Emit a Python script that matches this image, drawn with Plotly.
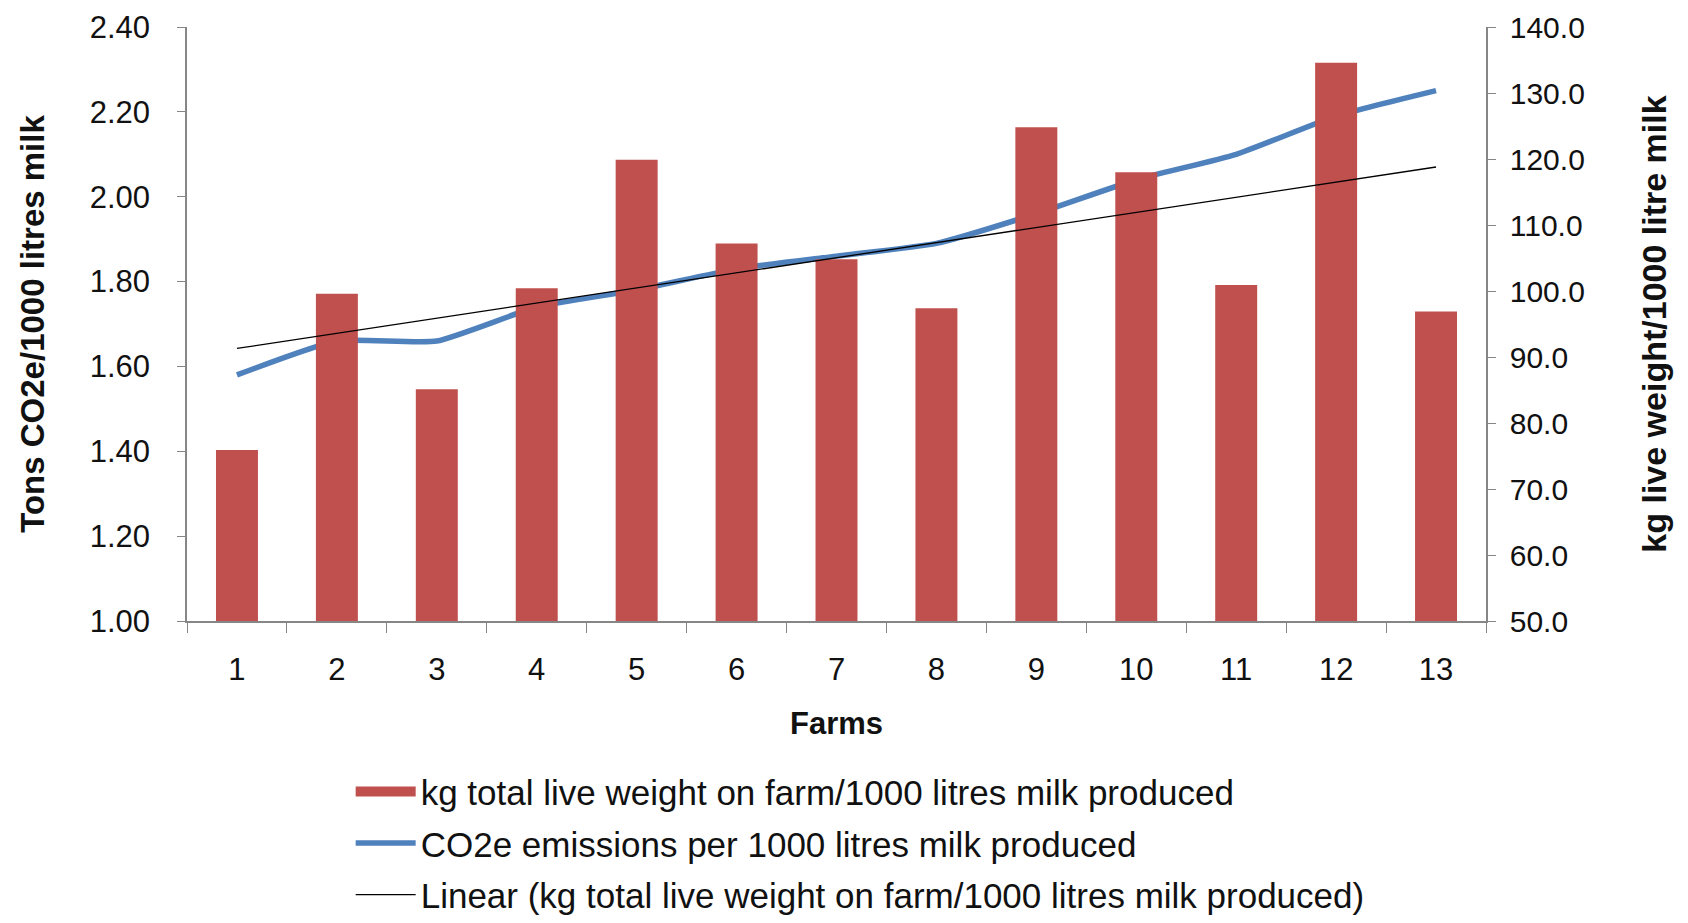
import numpy as np
import plotly.graph_objects as go

farms = [str(i) for i in range(1, 14)]
live_weight = [75.9, 99.6, 85.1, 100.4, 119.9, 107.2, 104.8, 97.4, 124.8, 118.0, 100.9, 134.6, 96.9]
co2e = [1.58, 1.66, 1.66, 1.74, 1.78, 1.83, 1.86, 1.89, 1.96, 2.04, 2.10, 2.19, 2.25]

bar_name = "kg total live weight on farm/1000 litres milk produced"
line_name = "CO2e emissions per 1000 litres milk produced"
trend_name = "Linear (kg total live weight on farm/1000 litres milk produced)"

# Linear trendline of the bar series (like Excel)
xi = np.arange(1, len(live_weight) + 1)
slope, intercept = np.polyfit(xi, live_weight, 1)
trend = list(slope * xi + intercept)

FONT = "Liberation Sans, Arial, sans-serif"
BAR_COLOR = "#C0504D"
LINE_COLOR = "#4F81BD"

fig = go.Figure()
fig.add_trace(go.Bar(x=farms, y=live_weight, name=bar_name, yaxis="y2",
                     marker=dict(color=BAR_COLOR, line=dict(width=0)),
                     showlegend=False))
# legend entry for bars drawn as a wide block (Excel style)
fig.add_trace(go.Scatter(x=[None], y=[None], name=bar_name, yaxis="y2", mode="lines",
                         line=dict(color=BAR_COLOR, width=17), legendgroup="a"))
fig.add_trace(go.Scatter(x=farms, y=co2e, name=line_name, yaxis="y",
                         mode="lines", line=dict(color=LINE_COLOR, width=5.5, shape="spline", smoothing=0.5),
                         legendgroup="b"))
fig.add_trace(go.Scatter(x=farms, y=trend, name=trend_name, yaxis="y2",
                         mode="lines", line=dict(color="#000000", width=1.3),
                         legendgroup="c"))

axis_line = "#868686"
fig.update_layout(
    width=1688, height=923,
    margin=dict(l=179, r=210, t=19, b=310, autoexpand=False),
    paper_bgcolor="white", plot_bgcolor="white",
    font=dict(family=FONT, size=31, color="#111111"),
    bargap=0.58,
    showlegend=True,
    legend=dict(x=0.126, y=-0.238, xanchor="left", yanchor="top",
                font=dict(size=35, family=FONT), tracegroupgap=3,
                itemwidth=60, bgcolor="rgba(0,0,0,0)"),
    xaxis=dict(type="category", showline=True, linecolor=axis_line, linewidth=1.5,
               ticks="outside", tickson="boundaries", ticklen=10, tickcolor=axis_line,
               showgrid=False, zeroline=False, automargin=False, ticklabelstandoff=20,
               tickfont=dict(size=31, family=FONT),
               title=dict(text="<b>Farms</b>", font=dict(size=31, family=FONT), standoff=26)),
    yaxis=dict(range=[1.0, 2.4], dtick=0.2, tickformat=".2f", showline=True,
               linecolor=axis_line, linewidth=1.5, ticks="outside", ticklen=8, tickcolor=axis_line,
               showgrid=False, zeroline=False, automargin=False, ticklabelstandoff=21,
               tickfont=dict(size=31, family=FONT),
               title=dict(text="<b>Tons CO2e/1000 litres milk</b>", font=dict(size=33, family=FONT), standoff=35)),
    yaxis2=dict(range=[50, 140], dtick=10, tickformat=".1f", overlaying="y", side="right",
                showline=True, linecolor=axis_line, linewidth=1.5, ticks="outside", ticklen=8,
                tickcolor=axis_line, showgrid=False, zeroline=False, automargin=False,
                ticklabelstandoff=8,
                tickfont=dict(size=30, family=FONT),
                title=dict(text="<b>kg live weight/1000 litre milk</b>", font=dict(size=34, family=FONT), standoff=58)),
)

fig.write_html("out.html")
